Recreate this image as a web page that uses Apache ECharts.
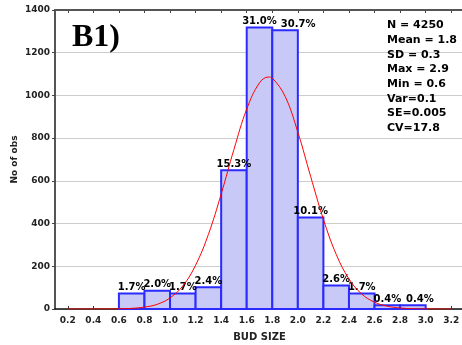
<!DOCTYPE html>
<html>
<head>
<meta charset="utf-8">
<script src="https://cdn.jsdelivr.net/npm/echarts@6/dist/echarts.min.js"></script>
<style>
  html, body { margin: 0; padding: 0; background: #fff; }
  #chart { width: 462px; height: 345px; }
</style>
</head>
<body>
<div id="chart"></div>
<script>
// Histogram bins for bud size (lower edge, upper edge) and counts per bin
const binStart = [0.6, 0.8, 1.0, 1.2, 1.4, 1.6, 1.8, 2.0, 2.2, 2.4, 2.6, 2.8];
const binEnd   = [0.8, 1.0, 1.2, 1.4, 1.6, 1.8, 2.0, 2.2, 2.4, 2.6, 2.8, 3.0];
const counts   = [72, 85, 72, 102, 650, 1318, 1305, 429, 110, 72, 17, 17];
const percentLabels = ['1.7%', '2.0%', '1.7%', '2.4%', '15.3%', '31.0%', '30.7%', '10.1%', '2.6%', '1.7%', '0.4%', '0.4%'];

// Fitted normal curve, sampled along the bud-size axis
const curveX = [0.2, 0.3, 0.4, 0.5, 0.6, 0.7, 0.8, 0.9, 1.0, 1.1, 1.2, 1.3, 1.4, 1.5, 1.6, 1.7, 1.77, 1.8, 1.9, 2.0, 2.1, 2.2, 2.3, 2.4, 2.5, 2.6, 2.7, 2.8, 2.9, 3.0, 3.1, 3.2];
const curveY = [0, 0, 0.1, 0.3, 1, 3, 9, 22, 52, 108, 205, 349, 538, 747, 936, 1059, 1086, 1081, 996, 828, 621, 420, 256, 141, 70, 32, 13, 5, 1.5, 0.5, 0.1, 0];

// Axis tick values
const xTicks = [0.2, 0.4, 0.6, 0.8, 1.0, 1.2, 1.4, 1.6, 1.8, 2.0, 2.2, 2.4, 2.6, 2.8, 3.0, 3.2];

// Summary statistics box
const statLines = ['N = 4250', 'Mean = 1.8', 'SD = 0.3', 'Max = 2.9', 'Min = 0.6', 'Var=0.1', 'SE=0.005', 'CV=17.8'];
const panelTitle = 'B1)';

const FONT = '"DejaVu Sans", Verdana, sans-serif';
// horizontal label shifts where neighbouring labels would collide
const labelShift = { 6: 13, 11: 7 };

const barData = binStart.map((s, i) => [s, binEnd[i], counts[i], i]);
const curveData = curveX.map((x, i) => [x, curveY[i]]);

const chart = echarts.init(document.getElementById('chart'), null, { renderer: 'canvas' });

chart.setOption({
  animation: false,
  backgroundColor: '#fff',
  grid: { left: 55, right: -2, top: 10, bottom: 36, containLabel: false, outerBoundsMode: 'none' },
  xAxis: [
    {
      type: 'value', min: 0.1, max: 3.3, position: 'bottom',
      name: 'BUD SIZE', nameLocation: 'middle', nameGap: 23, nameMoveOverlap: false,
      nameTextStyle: { fontFamily: FONT, fontWeight: 'bold', fontSize: 10, color: '#222' },
      axisLine: { show: true, lineStyle: { color: '#111', width: 1.5 } },
      axisTick: { show: true, inside: true, length: 3, customValues: xTicks, lineStyle: { color: '#333' } },
      axisLabel: {
        customValues: xTicks, formatter: v => v.toFixed(1), margin: 7,
        fontFamily: FONT, fontWeight: 'bold', fontSize: 9, color: '#222'
      },
      splitLine: { show: false }
    },
    {
      type: 'value', min: 0.1, max: 3.3, position: 'top',
      axisLine: { show: true, lineStyle: { color: '#555', width: 2 } },
      axisTick: { show: true, inside: true, length: 3, customValues: xTicks, lineStyle: { color: '#444' } },
      axisLabel: { show: false },
      splitLine: { show: false }
    }
  ],
  yAxis: {
    type: 'value', min: 0, max: 1400, interval: 200,
    name: 'No of obs', nameLocation: 'middle', nameGap: 36, nameRotate: 90, nameMoveOverlap: false,
    nameTextStyle: { fontFamily: FONT, fontWeight: 'bold', fontSize: 9, color: '#222' },
    axisLine: { show: true, lineStyle: { color: '#555', width: 2 } },
    axisTick: { show: true, inside: false, length: 3, lineStyle: { color: '#444' } },
    axisLabel: {
      margin: 5, formatter: v => String(v),
      fontFamily: FONT, fontWeight: 'bold', fontSize: 9, color: '#222'
    },
    splitLine: { show: true, lineStyle: { color: '#cdcdcd', width: 1 } }
  },
  graphic: [
    {
      type: 'text', left: 72, top: 22, z: 10,
      style: { text: panelTitle, font: 'bold 32px "Liberation Serif", "Times New Roman", serif', fill: '#000' }
    },
    {
      type: 'text', left: 387, top: 18, z: 10,
      style: {
        text: statLines.join('\n'), fontFamily: FONT, fontWeight: 'bold', fontSize: 11,
        lineHeight: 14.7, fill: '#000'
      }
    }
  ],
  series: [
    {
      type: 'custom',
      xAxisIndex: 0,
      data: barData,
      encode: { x: [0, 1], y: 2 },
      z: 2,
      renderItem: (params, api) => {
        const x0 = api.value(0), x1 = api.value(1), v = api.value(2), idx = api.value(3);
        const p0 = api.coord([x0, 0]);
        const p1 = api.coord([x1, v]);
        const cx = (p0[0] + p1[0]) / 2 + (labelShift[idx] || 0);
        return {
          type: 'group',
          children: [
            {
              type: 'rect',
              shape: { x: p0[0], y: p1[1], width: p1[0] - p0[0], height: p0[1] - p1[1] },
              style: { fill: '#c8c9f7', stroke: '#2b2bff', lineWidth: 2 }
            },
            {
              type: 'text', x: cx, y: p1[1] - 1, z2: 5,
              style: {
                text: percentLabels[idx], fontFamily: FONT, fontWeight: 'bold', fontSize: 10,
                fill: '#000', align: 'center', verticalAlign: 'bottom'
              }
            }
          ]
        };
      }
    },
    {
      type: 'line',
      xAxisIndex: 0,
      data: curveData,
      smooth: 0.4,
      showSymbol: false,
      z: 3,
      lineStyle: { color: '#ff0000', width: 1 },
      itemStyle: { color: '#ff0000' }
    }
  ]
});
</script>
</body>
</html>
